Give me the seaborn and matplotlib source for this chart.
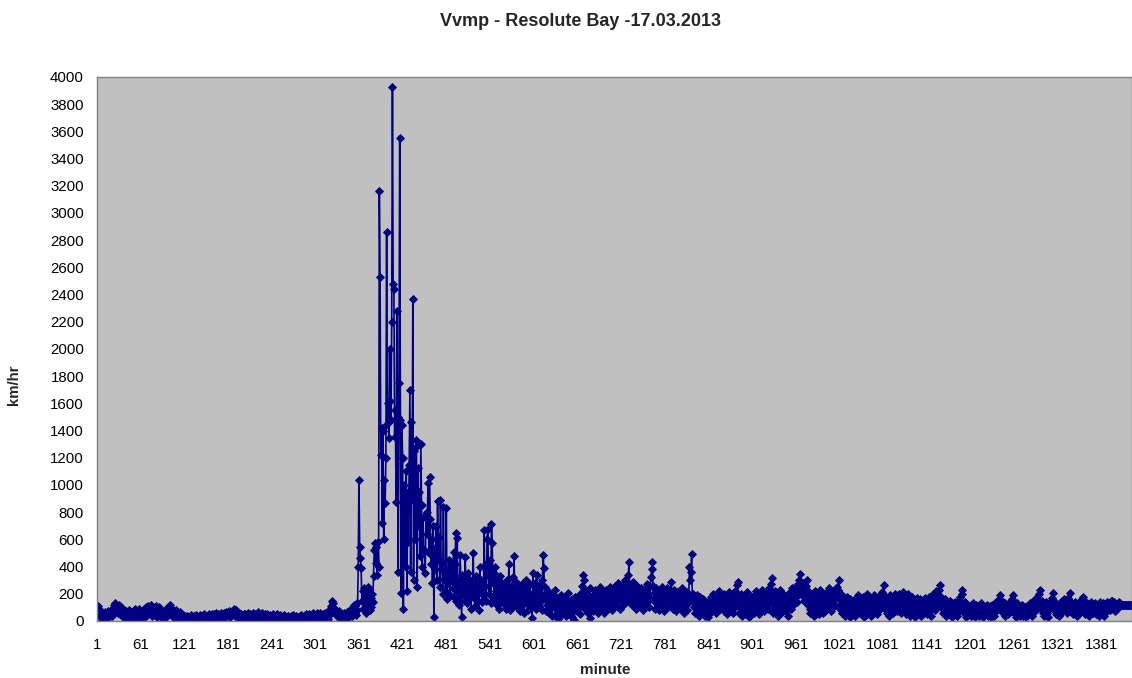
import numpy as np
import pandas as pd
import matplotlib
matplotlib.use("Agg")
import matplotlib.pyplot as plt
import seaborn as sns

# ---------------- data (km/hr, one value per minute) ----------------
speed_00_04 = [
    95, 110, 80, 60, 40, 75, 30, 15, 45, 20,
    50, 65, 30, 55, 25, 70, 45, 60, 35, 80,
    55, 40, 90, 120, 85, 130, 70, 110, 95, 60,
    115, 75, 50, 100, 65, 40, 85, 30, 60, 45,
    70, 25, 55, 40, 80, 20, 50, 35, 65, 15,
    45, 60, 30, 85, 40, 70, 25, 55, 90, 35,
    60, 30, 75, 45, 20, 85, 55, 100, 40, 70,
    110, 65, 90, 50, 120, 80, 35, 105, 60, 95,
    45, 110, 70, 30, 85, 55, 100, 40, 75, 25,
    50, 30, 65, 20, 45, 80, 35, 95, 60, 110,
    75, 115, 50, 90, 40, 70, 25, 60, 35, 80,
    45, 20, 55, 30, 65, 15, 40, 50, 25, 35,
    20, 35, 10, 25, 40, 15, 30, 8, 22, 45,
    18, 30, 12, 38, 25, 10, 42, 20, 32, 15,
    28, 45, 18, 35, 12, 40, 25, 50, 20, 38,
    30, 15, 45, 28, 52, 22, 40, 18, 55, 35,
    25, 48, 30, 60, 20, 42, 35, 55, 28, 45,
    38, 62, 25, 50, 40, 58, 30, 65, 45, 35,
    55, 40, 70, 30, 60, 45, 75, 50, 90, 65,
    40, 80, 35, 55, 25, 60, 45, 30, 50, 20,
    42, 30, 55, 25, 48, 35, 20, 58, 38, 28,
    50, 22, 45, 32, 60, 18, 40, 52, 28, 35,
    48, 65, 30, 55, 20, 42, 35, 58, 25, 45,
    30, 50, 18, 40, 55, 25, 38, 15, 45, 28,
]
speed_04_08 = [
    35, 20, 48, 12, 30, 40, 18, 52, 25, 10,
    38, 22, 45, 15, 30, 8, 28, 42, 18, 35,
    12, 30, 20, 40, 10, 25, 35, 15, 28, 45,
    18, 32, 8, 25, 40, 15, 30, 20, 10, 35,
    22, 45, 15, 30, 12, 38, 25, 50, 18, 32,
    40, 20, 55, 28, 15, 42, 30, 60, 22, 35,
    45, 25, 58, 30, 50, 18, 40, 62, 28, 35,
    55, 20, 48, 32, 60, 25, 42, 15, 38, 70,
    85, 60, 110, 150, 95, 130, 75, 90, 50, 65,
    40, 55, 28, 70, 35, 48, 20, 45, 30, 60,
    25, 50, 35, 65, 20, 45, 70, 30, 80, 55,
    40, 95, 65, 120, 60, 110, 45, 130, 80, 400,
    1040, 545, 460, 390, 150, 220, 90, 240, 130, 210,
    60, 180, 250, 120, 230, 80, 170, 100, 200, 140,
    330, 520, 575, 425, 545, 340, 580, 400, 3160, 2530,
    1220, 1420, 720, 1400, 600, 1040, 870, 1200, 2860, 1450,
    1600, 1345, 2000, 1620, 1480, 2200, 3930, 2480, 2440, 1350,
    1550, 875, 2280, 1500, 360, 1750, 3550, 1480, 205, 1440,
    1200, 90, 1000, 600, 400, 1100, 220, 950, 580, 1150,
    1700, 360, 1460, 900, 2370, 300, 1250, 600, 1330, 1280,
    250, 1125, 700, 950, 480, 1300, 850, 400, 765, 520,
    520, 350, 760, 640, 800, 1015, 500, 1060, 750, 420,
    600, 280, 700, 30, 540, 380, 700, 300, 880, 450,
    620, 250, 890, 380, 435, 200, 840, 310, 360, 220,
]
speed_08_12 = [
    830, 160, 380, 280, 450, 190, 420, 300, 390, 240,
    510, 180, 420, 650, 150, 610, 220, 300, 120, 485,
    260, 30, 340, 200, 280, 150, 470, 220, 310, 130,
    350, 240, 180, 300, 90, 260, 200, 500, 170, 280,
    110, 330, 230, 150, 260, 80, 400, 210, 300, 140,
    250, 190, 670, 260, 420, 150, 600, 680, 330, 200,
    450, 130, 715, 575, 280, 350, 170, 400, 220, 120,
    300, 180, 250, 90, 330, 200, 140, 280, 160, 220,
    120, 250, 90, 300, 180, 140, 420, 200, 80, 260,
    150, 320, 110, 480, 230, 170, 290, 100, 210, 140,
    260, 70, 190, 240, 120, 280, 160, 60, 220, 300,
    130, 250, 80, 200, 150, 270, 100, 180, 20, 350,
    210, 120, 280, 90, 340, 170, 230, 110, 260, 140,
    200, 80, 300, 485, 390, 160, 250, 70, 180, 120,
    220, 60, 150, 90, 180, 40, 140, 200, 100, 230,
    120, 50, 170, 15, 130, 30, 160, 100, 190, 70,
    140, 60, 110, 170, 40, 130, 90, 205, 150, 50,
    120, 80, 160, 30, 100, 140, 10, 180, 90, 130,
    70, 170, 110, 200, 50, 150, 260, 120, 340, 300,
    180, 90, 220, 130, 60, 170, 100, 240, 20, 150,
    110, 190, 70, 160, 230, 90, 140, 200, 60, 180,
    120, 250, 100, 170, 80, 210, 140, 60, 190, 110,
    230, 150, 90, 200, 130, 250, 170, 80, 220, 140,
    180, 100, 260, 150, 210, 120, 280, 190, 90, 240,
]
speed_12_16 = [
    160, 220, 110, 270, 180, 130, 300, 200, 150, 250,
    340, 435, 210, 160, 250, 120, 290, 180, 230, 140,
    200, 90, 260, 150, 220, 110, 180, 240, 130, 190,
    80, 230, 160, 210, 120, 270, 140, 200, 100, 250,
    170, 320, 380, 435, 260, 150, 210, 90, 240, 180,
    130, 230, 80, 200, 160, 110, 250, 140, 190, 70,
    210, 120, 170, 240, 100, 180, 140, 220, 150, 290,
    200, 90, 160, 230, 120, 180, 70, 210, 140, 100,
    170, 120, 200, 90, 240, 150, 60, 190, 110, 160,
    80, 210, 130, 180, 400, 300, 360, 490, 150, 200,
    100, 170, 60, 140, 190, 90, 150, 40, 120, 180,
    70, 130, 50, 160, 100, 40, 140, 80, 110, 30,
    90, 150, 60, 120, 180, 70, 130, 200, 90, 160,
    110, 60, 170, 130, 220, 80, 150, 100, 190, 120,
    160, 70, 200, 130, 90, 180, 50, 150, 110, 210,
    140, 80, 190, 120, 60, 170, 220, 100, 150, 265,
    290, 180, 60, 140, 100, 200, 40, 160, 120, 80,
    170, 50, 130, 210, 90, 150, 30, 120, 180, 70,
    140, 100, 190, 60, 160, 220, 110, 80, 170, 130,
    50, 200, 140, 90, 230, 120, 170, 70, 150, 210,
    120, 180, 90, 240, 150, 200, 270, 315, 130, 60,
    170, 100, 220, 80, 150, 190, 40, 130, 230, 110,
    60, 160, 120, 200, 90, 140, 70, 180, 110, 150,
    40, 130, 210, 90, 170, 240, 120, 200, 160, 250,
]
speed_16_20 = [
    180, 230, 140, 270, 200, 300, 345, 260, 220, 190,
    280, 150, 240, 210, 260, 300, 230, 120, 180, 90,
    60, 140, 200, 100, 170, 40, 130, 220, 80, 160,
    110, 190, 50, 150, 230, 90, 170, 120, 60, 200,
    140, 80, 180, 210, 100, 160, 240, 130, 70, 190,
    150, 100, 220, 170, 120, 200, 250, 180, 230, 300,
    160, 90, 200, 130, 60, 170, 110, 150, 40, 140,
    100, 180, 70, 130, 30, 160, 90, 120, 60, 150,
    80, 140, 40, 170, 110, 60, 190, 90, 130, 50,
    160, 100, 70, 180, 30, 120, 150, 80, 200, 110,
    60, 140, 90, 170, 40, 130, 100, 190, 70, 150,
    110, 50, 160, 120, 180, 80, 140, 200, 100, 210,
    170, 265, 130, 90, 180, 60, 150, 110, 40, 140,
    190, 80, 120, 170, 60, 150, 100, 200, 130, 70,
    150, 90, 200, 130, 60, 180, 110, 210, 140, 80,
    170, 50, 190, 120, 200, 90, 160, 40, 130, 100,
    180, 70, 150, 110, 30, 140, 90, 170, 60, 120,
    100, 160, 40, 130, 80, 150, 60, 110, 170, 90,
    50, 140, 100, 180, 70, 130, 40, 160, 110, 200,
    140, 80, 170, 220, 120, 190, 150, 230, 265, 180,
    100, 150, 60, 130, 90, 160, 40, 110, 140, 70,
    120, 50, 150, 90, 30, 130, 80, 110, 60, 140,
    90, 40, 120, 150, 70, 100, 180, 130, 200, 230,
    110, 60, 140, 80, 30, 120, 90, 50, 100, 70,
]
speed_20_24 = [
    110, 40, 80, 130, 60, 100, 30, 90, 120, 50,
    70, 110, 40, 100, 60, 130, 80, 30, 90, 60,
    100, 50, 80, 120, 40, 90, 60, 110, 30, 80,
    120, 60, 100, 40, 130, 70, 150, 90, 140, 110,
    160, 190, 120, 80, 140, 60, 100, 130, 40, 90,
    110, 50, 80, 130, 70, 150, 100, 160, 190, 120,
    60, 100, 30, 90, 130, 50, 80, 110, 40, 70,
    90, 120, 40, 80, 60, 100, 30, 110, 70, 50,
    100, 60, 130, 80, 40, 110, 150, 90, 120, 70,
    160, 110, 180, 140, 200, 230, 130, 90, 150, 60,
    100, 40, 120, 80, 140, 60, 110, 30, 90, 130,
    150, 100, 170, 205, 120, 80, 140, 50, 100, 70,
    120, 40, 90, 130, 60, 110, 150, 80, 160, 120,
    90, 140, 60, 130, 170, 110, 150, 205, 140, 80,
    120, 50, 100, 140, 70, 110, 40, 90, 130, 60,
    100, 140, 80, 160, 180, 120, 70, 110, 50, 90,
    130, 60, 100, 40, 120, 80, 140, 100, 60, 110,
    90, 130, 50, 100, 70, 120, 40, 90, 140, 80,
    110, 60, 130, 90, 40, 100, 120, 70, 140, 90,
    130, 80, 110, 150, 120, 150, 90, 140, 70, 110,
    120, 90, 130, 100, 140, 120, 120, 120, 120, 120,
    120, 120, 120, 120, 120, 120, 120, 120, 120, 120,
    120, 120, 120, 120, 120, 120, 120, 120, 120, 120,
    120, 120, 120, 120, 120, 120, 120, 120, 120, 120,
]

tick_minutes = [1, 61, 121, 181, 241, 301, 361, 421, 481, 541, 601, 661,
                721, 781, 841, 901, 961, 1021, 1081, 1141, 1201, 1261, 1321, 1381]
tick_labels = ["1", "61", "121", "181", "241", "301", "361", "421", "481", "541",
               "601", "661", "721", "781", "841", "901", "961", "1021", "1081",
               "1141", "1201", "1261", "1321", "1381"]
y_ticks = [0, 200, 400, 600, 800, 1000, 1200, 1400, 1600, 1800, 2000, 2200,
           2400, 2600, 2800, 3000, 3200, 3400, 3600, 3800, 4000]

title_text = "Vvmp - Resolute Bay -17.03.2013"
x_title = "minute"
y_title = "km/hr"

# ---------------- plotting ----------------
speed = (speed_00_04 + speed_04_08 + speed_08_12 +
         speed_12_16 + speed_16_20 + speed_20_24)
df = pd.DataFrame({"minute": np.arange(1, len(speed) + 1), "kmh": speed})

sns.set_style("white")
plt.rcParams["font.family"] = ["Liberation Sans", "DejaVu Sans"]

W, H = 1132, 678
fig = plt.figure(figsize=(W / 100, H / 100), dpi=100)
left_px, right_px, top_px, bottom_px = 96.5, 1132, 77, 621
ax = fig.add_axes([left_px / W, 1 - bottom_px / H,
                   (right_px - left_px) / W, (bottom_px - top_px) / H])
ax.set_facecolor("#C0C0C0")

navy = "#000080"
sns.lineplot(data=df, x="minute", y="kmh", ax=ax, color=navy, linewidth=1.2,
             marker="D", markersize=4.3, markeredgecolor=navy,
             markerfacecolor=navy, markeredgewidth=0.6, estimator=None)

px_per_min = 0.728
ax.set_xlim(0.5, 0.5 + (right_px - left_px) / px_per_min)
ax.set_ylim(0, 4000)
ax.set_xticks(tick_minutes)
ax.set_xticklabels(tick_labels)
ax.set_yticks(y_ticks)
ax.set_yticklabels([str(v) for v in y_ticks])
ax.tick_params(axis="x", length=0, pad=12, labelsize=10.8, colors="#000000")
ax.tick_params(axis="y", length=0, pad=9, labelsize=10.8, colors="#000000")
ax.set_xlabel("")
ax.set_ylabel("")
ax.grid(False)
for s in ax.spines.values():
    s.set_color("#808080")
    s.set_linewidth(1.0)

fig.text(580 / W, 1 - 22 / H, title_text, ha="center", va="center",
         fontsize=13, fontweight="bold")
fig.text(605 / W, 1 - 670 / H, x_title, ha="center", va="center",
         fontsize=11, fontweight="bold")
fig.text(14 / W, 1 - 385 / H, y_title, ha="center", va="center",
         rotation=90, fontsize=10.8, fontweight="bold")

fig.savefig("out.png", dpi=100)
